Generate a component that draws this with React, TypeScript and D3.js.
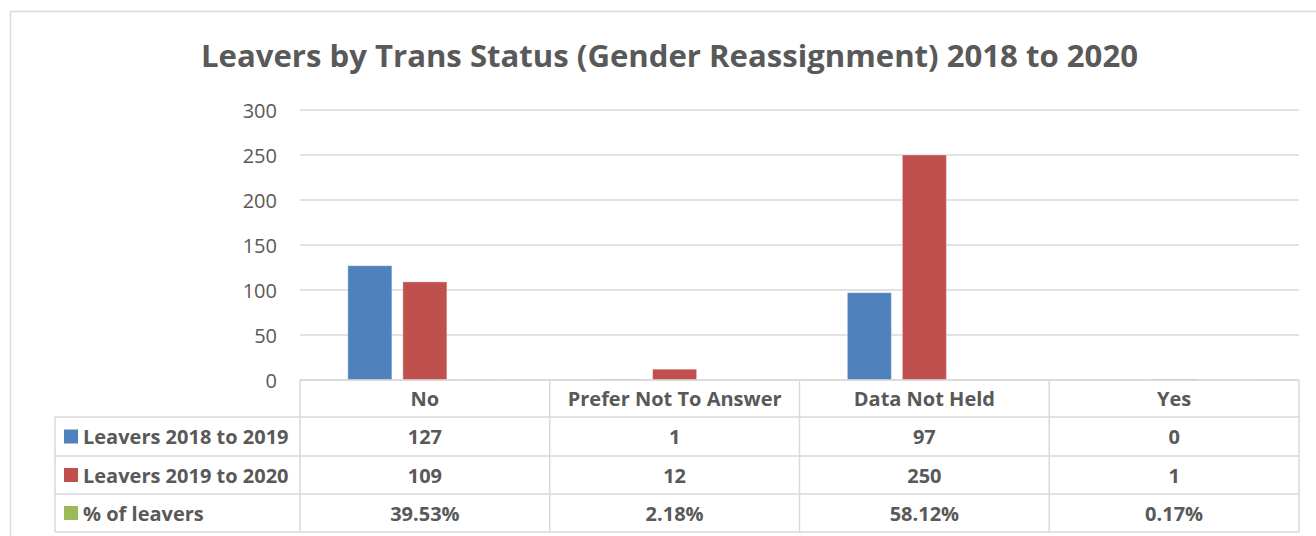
import React from "react";
import * as d3 from "d3";

const categories = ["No", "Prefer Not To Answer", "Data Not Held", "Yes"];
const seriesNames = ["Leavers 2018 to 2019", "Leavers 2019 to 2020", "% of leavers"];
const leavers2018to2019 = [127, 1, 97, 0];
const leavers2019to2020 = [109, 12, 250, 1];
const pctOfLeavers = [0.3953, 0.0218, 0.5812, 0.0017];
const yTicks = [0, 50, 100, 150, 200, 250, 300];
const colors = ["#4F81BD", "#C0504D", "#9BBB59"];

const W = 1316;
const H = 536;
const FONT = "'Open Sans', 'Liberation Sans', sans-serif";
const TEXT = "#595959";
const GRID = "#d9d9d9";

export default function App() {
  const plotLeft = 300;
  const plotRight = 1299;
  const plotTop = 110;
  const plotBottom = 380;
  const tableLeft = 55;
  const rowLines = [417, 456, 494, 532];

  const x = d3.scaleBand<string>().domain(categories).range([plotLeft, plotRight]).padding(0);
  const xs = d3
    .scaleBand<string>()
    .domain(seriesNames)
    .range([0, x.bandwidth()])
    .paddingInner(0.2)
    .paddingOuter(0.87);
  const y = d3.scaleLinear().domain([0, 300]).range([plotBottom, plotTop]);

  const seriesValues = [leavers2018to2019, leavers2019to2020, pctOfLeavers];
  const tableRows = [
    leavers2018to2019.map((v) => String(v)),
    leavers2019to2020.map((v) => String(v)),
    pctOfLeavers.map((v) => d3.format(".2%")(v)),
  ];

  return (
    <svg width={W} height={H} style={{ display: "block", position: "absolute", left: 0, top: 0 }} fontFamily={FONT}>
      <rect x={0} y={0} width={W} height={H} fill="#fff" />
      <rect x={10.5} y={11.5} width={W + 20} height={H + 20} fill="none" stroke={GRID} strokeWidth={1.5} />
      <text
        x={669.5}
        y={55}
        textAnchor="middle"
        dominantBaseline="central"
        fontSize={30}
        fontWeight="bold"
        fill={TEXT}
        textLength={937}
        lengthAdjust="spacingAndGlyphs"
      >
        Leavers by Trans Status (Gender Reassignment) 2018 to 2020
      </text>

      {/* gridlines */}
      {yTicks.map((t) => (
        <g key={t}>
          <line x1={plotLeft} x2={plotRight} y1={y(t)} y2={y(t)} stroke={GRID} strokeWidth={1.5} />
          <text x={277} y={y(t)} textAnchor="end" dominantBaseline="central" fontSize={20} fill={TEXT}>
            {t}
          </text>
        </g>
      ))}

      {/* bars */}
      {seriesValues.map((vals, si) =>
        vals.map((v, ci) => {
          const bx = (x(categories[ci]) ?? 0) + (xs(seriesNames[si]) ?? 0);
          const by = y(v);
          return (
            <rect
              key={`${si}-${ci}`}
              x={bx}
              y={by}
              width={xs.bandwidth()}
              height={Math.max(0, plotBottom - by)}
              fill={colors[si]}
              stroke="#ffffff"
              strokeOpacity={0.35}
              strokeWidth={1}
            />
          );
        })
      )}

      {/* table lines */}
      <line x1={plotLeft} x2={plotRight} y1={plotBottom} y2={plotBottom} stroke={GRID} strokeWidth={1.5} />
      {rowLines.map((ry) => (
        <line key={ry} x1={tableLeft} x2={plotRight} y1={ry} y2={ry} stroke={GRID} strokeWidth={1.5} />
      ))}
      <line x1={tableLeft} x2={tableLeft} y1={rowLines[0]} y2={rowLines[3]} stroke={GRID} strokeWidth={1.5} />
      {categories.map((c) => (
        <line
          key={c}
          x1={x(c) ?? 0}
          x2={x(c) ?? 0}
          y1={plotBottom}
          y2={rowLines[3]}
          stroke={GRID}
          strokeWidth={1.5}
        />
      ))}
      <line x1={plotRight} x2={plotRight} y1={plotBottom} y2={rowLines[3]} stroke={GRID} strokeWidth={1.5} />

      {/* category labels */}
      {categories.map((c) => (
        <text
          key={c}
          x={(x(c) ?? 0) + x.bandwidth() / 2}
          y={(plotBottom + rowLines[0]) / 2}
          textAnchor="middle"
          dominantBaseline="central"
          fontSize={20}
          fontWeight="bold"
          fill={TEXT}
        >
          {c}
        </text>
      ))}

      {/* rows */}
      {seriesNames.map((s, si) => {
        const cy = (rowLines[si] + rowLines[si + 1]) / 2;
        return (
          <g key={s}>
            <rect x={64} y={cy - 7} width={14} height={14} fill={colors[si]} />
            <text x={83} y={cy} dominantBaseline="central" fontSize={20} fontWeight="bold" fill={TEXT}>
              {s}
            </text>
            {tableRows[si].map((v, ci) => (
              <text
                key={ci}
                x={(x(categories[ci]) ?? 0) + x.bandwidth() / 2}
                y={cy}
                textAnchor="middle"
                dominantBaseline="central"
                fontSize={20}
                fontWeight="bold"
                fill={TEXT}
              >
                {v}
              </text>
            ))}
          </g>
        );
      })}
    </svg>
  );
}
